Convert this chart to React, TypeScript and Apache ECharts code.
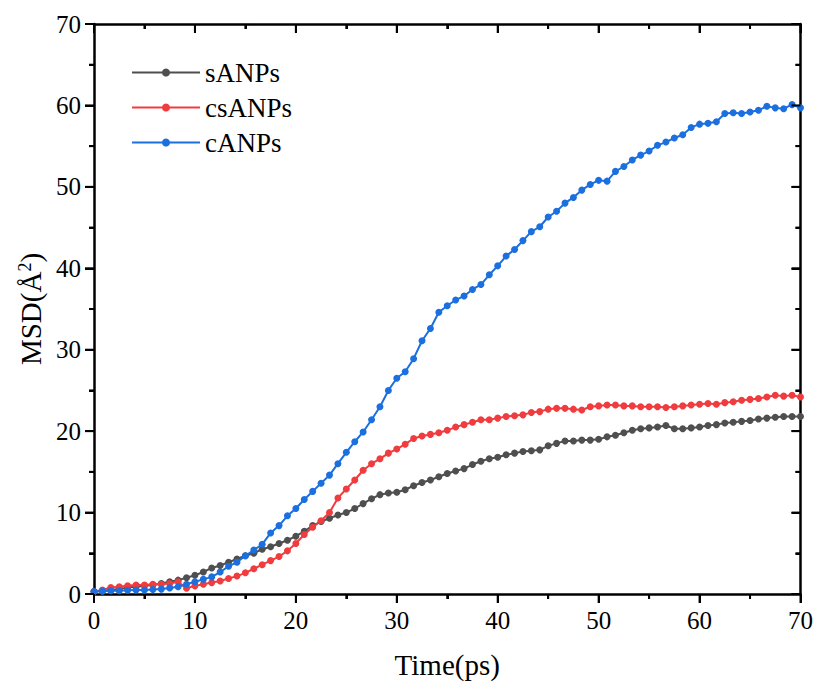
import React, { useEffect, useRef } from "react";
import * as echarts from "echarts";

// time grid: 85 samples from 0 to 70 ps
const timeStep = 70 / 84;

const sANPs = [
  0.3, 0.4, 0.5, 0.6, 0.8, 0.9, 1.0, 1.1, 1.3, 1.5,
  1.7, 2.0, 2.3, 2.7, 3.2, 3.5, 3.9, 4.3, 4.7, 5.0,
  5.5, 5.8, 6.2, 6.6, 7.1, 7.7, 8.4, 8.9, 9.3, 9.7,
  10.0, 10.5, 11.1, 11.7, 12.2, 12.4, 12.5, 12.8, 13.3, 13.7,
  14.0, 14.4, 14.8, 15.1, 15.4, 15.9, 16.3, 16.6, 16.8, 17.1,
  17.3, 17.5, 17.6, 17.7, 18.2, 18.5, 18.8, 18.8, 18.9, 18.9,
  19.0, 19.3, 19.5, 19.8, 20.1, 20.3, 20.4, 20.5, 20.7, 20.3,
  20.3, 20.4, 20.5, 20.7, 20.8, 21.0, 21.1, 21.2, 21.3, 21.5,
  21.6, 21.7, 21.8, 21.8, 21.8,
];

const csANPs = [
  0.3, 0.5, 0.8, 0.9, 1.0, 1.1, 1.1, 1.2, 1.2, 1.3,
  1.5, 0.7, 1.0, 1.2, 1.4, 1.6, 1.9, 2.2, 2.6, 3.1,
  3.6, 4.1, 4.6, 5.3, 6.2, 7.3, 8.2, 9.0, 10.0, 11.8,
  12.9, 14.0, 15.2, 16.0, 16.6, 17.3, 17.8, 18.4, 19.1, 19.4,
  19.6, 19.8, 20.1, 20.5, 20.8, 21.1, 21.4, 21.4, 21.6, 21.8,
  21.9, 22.0, 22.3, 22.4, 22.7, 22.8, 22.8, 22.7, 22.6, 23.0,
  23.1, 23.2, 23.2, 23.1, 23.1, 23.0, 23.0, 23.0, 22.9, 23.0,
  23.1, 23.2, 23.3, 23.4, 23.3, 23.5, 23.6, 23.8, 23.9, 24.0,
  24.2, 24.4, 24.3, 24.4, 24.2,
];

const cANPs = [
  0.3, 0.35, 0.4, 0.4, 0.45, 0.5, 0.5, 0.55, 0.6, 0.75,
  0.9, 1.2, 1.5, 1.8, 2.1, 2.7, 3.4, 3.9, 4.7, 5.4,
  6.1, 7.5, 8.4, 9.6, 10.5, 11.6, 12.6, 13.6, 14.6, 16.0,
  17.4, 18.7, 19.9, 21.4, 23.0, 25.0, 26.5, 27.3, 28.9, 31.1,
  32.6, 34.6, 35.4, 36.1, 36.6, 37.4, 38.0, 39.2, 40.3, 41.5,
  42.3, 43.4, 44.5, 45.1, 46.3, 47.0, 48.0, 48.7, 49.6, 50.3,
  50.8, 50.7, 51.9, 52.5, 53.3, 53.9, 54.4, 55.1, 55.5, 56.0,
  56.4, 57.3, 57.7, 57.8, 58.0, 59.0, 59.1, 59.0, 59.2, 59.4,
  59.9, 59.7, 59.6, 60.1, 59.7,
];

const majorTicks = [0, 10, 20, 30, 40, 50, 60, 70];
const minorTicks = [5, 15, 25, 35, 45, 55, 65];

const seriesNames = ["sANPs", "csANPs", "cANPs"];
const seriesColors = ["#4f4f4f", "#f03c3f", "#1b6fde"];
const seriesValues = [sANPs, csANPs, cANPs];

const FONT = "'Liberation Serif', 'Times New Roman', serif";

function makeAxis(position: string, primary: boolean, isX: boolean) {
  const tick: any = { show: true, length: 9, lineStyle: { color: "#000000", width: 2 } };
  if (!primary) tick.inside = true;
  return {
    type: "value",
    position,
    min: 0,
    max: 70,
    interval: 10,
    axisLine: { show: true, onZero: false, lineStyle: { color: "#000000", width: 2.5 } },
    axisTick: tick,
    minorTick: { show: true, splitNumber: 2, length: 5, lineStyle: { color: "#000000", width: 2 } },
    axisLabel: primary
      ? { show: true, fontFamily: FONT, fontSize: 25, color: "#000", margin: isX ? 14 : 13 }
      : { show: false },
    splitLine: { show: false },
  };
}

export default function App() {
  const ref = useRef<HTMLDivElement>(null);
  useEffect(() => {
    if (!ref.current) return;
    document.body.style.margin = "0";
    const chart = echarts.init(ref.current, undefined, { renderer: "svg" });
    const xBottom: any = makeAxis("bottom", true, true);
    xBottom.name = "Time(ps)";
    xBottom.nameLocation = "middle";
    xBottom.nameGap = 56;
    xBottom.nameTextStyle = { fontFamily: FONT, fontSize: 29, color: "#000" };
    const yLeft: any = makeAxis("left", true, false);
    yLeft.name = "MSD(Å{sup|2})";
    yLeft.nameLocation = "middle";
    yLeft.nameGap = 43;
    yLeft.nameRotate = 90;
    yLeft.nameTextStyle = {
      fontFamily: FONT,
      fontSize: 29,
      color: "#000",
      rich: { sup: { fontSize: 18, verticalAlign: "top" } },
    };
    try {
      chart.setOption({
        animation: false,
        backgroundColor: "#fff",
        grid: { left: 94, right: 13, top: 24, bottom: 91, containLabel: false },
        legend: {
          orient: "vertical",
          left: 126,
          top: 54,
          itemWidth: 68,
          itemHeight: 10,
          itemGap: 8,
          textStyle: { fontFamily: FONT, fontSize: 27, color: "#000" },
          data: seriesNames,
        },
        xAxis: [xBottom, makeAxis("top", false, true)],
        yAxis: [yLeft, makeAxis("right", false, false)],
        series: seriesNames.map((name, k) => ({
          name,
          type: "line",
          data: seriesValues[k].map((v, i) => [i * timeStep, v]),
          symbol: "circle",
          symbolSize: 7,
          showAllSymbol: true,
          clip: false,
          color: seriesColors[k],
          lineStyle: { color: seriesColors[k], width: 2 },
          itemStyle: { color: seriesColors[k] },
          z: 2 + k,
        })),
      });
    } catch (e) {
      // keep going so the tick backup below is still drawn
    }

    try {
      // tick marks placed through the axes' own scales (backup for the axis ticks)
      const px = (v: number) => Number(chart.convertToPixel({ xAxisIndex: 0 }, v));
      const py = (v: number) => Number(chart.convertToPixel({ yAxisIndex: 0 }, v));
      const x0 = px(0), x1 = px(70), y0 = py(0), y1 = py(70);
      const seg = (a: number, b: number, c: number, d: number) => ({
        type: "line",
        silent: true,
        z: 10,
        shape: { x1: a, y1: b, x2: c, y2: d },
        style: { stroke: "#000", lineWidth: 2 },
      });
      const els: any[] = [];
      const addTicks = (vals: number[], len: number) => {
        vals.forEach((v) => {
          const x = px(v);
          const y = py(v);
          els.push(seg(x, y0, x, y0 + len));
          els.push(seg(x, y1, x, y1 + len));
          els.push(seg(x0, y, x0 - len, y));
          els.push(seg(x1, y, x1 - len, y));
        });
      };
      addTicks(majorTicks, 9);
      addTicks(minorTicks, 5);
      if (els.every((e) => isFinite(e.shape.x1) && isFinite(e.shape.y1))) {
        chart.setOption({ graphic: els });
      }
    } catch (e) {
      // ignore
    }

    return () => chart.dispose();
  }, []);
  return <div ref={ref} style={{ width: 816, height: 685 }} />;
}
